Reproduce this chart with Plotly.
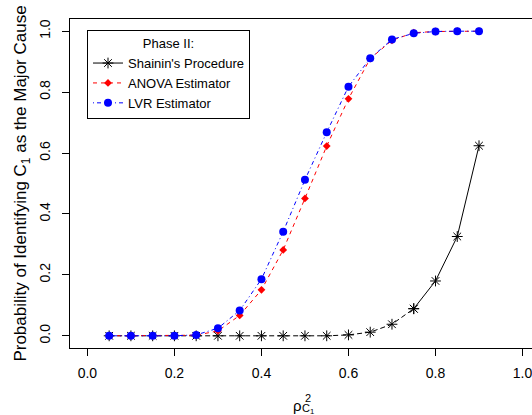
import plotly.graph_objects as go

rho2 = [0.05, 0.10, 0.15, 0.20, 0.25, 0.30, 0.35, 0.40, 0.45, 0.50, 0.55, 0.60, 0.65, 0.70, 0.75, 0.80, 0.85, 0.90]
shainin = [0.0, 0.0, 0.0, 0.0, 0.0, 0.0, 0.0, 0.0, 0.0, 0.0, 0.0, 0.003, 0.012, 0.038, 0.089, 0.180, 0.326, 0.624]
anova = [0.0, 0.0, 0.0, 0.0, 0.002, 0.016, 0.067, 0.151, 0.282, 0.451, 0.623, 0.778, 0.910, 0.970, 0.995, 0.999, 1.0, 1.0]
lvr = [0.0, 0.0, 0.0, 0.0, 0.003, 0.025, 0.083, 0.186, 0.342, 0.512, 0.668, 0.818, 0.911, 0.973, 0.993, 0.999, 1.0, 1.0]
x_ticks = [0.0, 0.2, 0.4, 0.6, 0.8, 1.0]
y_ticks = [0.0, 0.2, 0.4, 0.6, 0.8, 1.0]
split = 14  # Shainin curve drawn dashed up to this index, solid after

FONT = "Liberation Sans, Arial, sans-serif"

fig = go.Figure()
fig.add_trace(go.Scatter(
    x=rho2[split:], y=shainin[split:], mode="lines+markers", name="Shainin's Procedure",
    line=dict(color="black", width=1),
    marker=dict(symbol="asterisk-open", size=9, color="black", line=dict(color="black", width=1)),
))
fig.add_trace(go.Scatter(
    x=rho2[:split + 1], y=shainin[:split + 1], mode="lines+markers", showlegend=False,
    line=dict(color="black", width=1, dash="5px,3px"),
    marker=dict(symbol="asterisk-open", size=9, color="black", line=dict(color="black", width=1)),
))
fig.add_trace(go.Scatter(
    x=rho2, y=anova, mode="lines+markers", name="ANOVA Estimator",
    line=dict(color="red", width=1, dash="4px,4px"),
    marker=dict(symbol="diamond", size=6, color="red"),
))
fig.add_trace(go.Scatter(
    x=rho2, y=lvr, mode="lines+markers", name="LVR Estimator",
    line=dict(color="blue", width=1, dash="1px,3px,4px,3px"),
    marker=dict(symbol="circle", size=8, color="blue"),
))

fig.update_layout(
    width=532, height=415,
    margin=dict(l=70, r=0, t=19, b=67, autoexpand=False),
    paper_bgcolor="white", plot_bgcolor="white",
    font=dict(family=FONT, size=13, color="black"),
    showlegend=True,
    legend=dict(
        x=0.0368, y=0.966, xanchor="left", yanchor="top",
        bordercolor="black", borderwidth=1, bgcolor="white",
        font=dict(family=FONT, size=13, color="black"),
        title=dict(text="Phase II:", side="top center", font=dict(family=FONT, size=13)),
        tracegroupgap=0,
    ),
    xaxis=dict(
        range=[-0.04, 1.0218], tickvals=x_ticks, ticktext=[f"{v:.1f}" for v in x_ticks],
        showgrid=False, zeroline=False, showline=True, linecolor="black", linewidth=1,
        mirror=True, ticks="outside", ticklen=7, tickcolor="black", automargin=False,
        ticklabelstandoff=5, ticklabeloverflow="allow",
        tickfont=dict(family=FONT, size=14, color="black"),
    ),
    yaxis=dict(
        range=[-0.04, 1.04], tickvals=y_ticks, ticktext=[f"{v:.1f}" for v in y_ticks],
        showgrid=False, zeroline=False, showline=True, linecolor="black", linewidth=1,
        ticks="outside", ticklen=7, tickcolor="black", tickangle=-90, automargin=False,
        ticklabelstandoff=6, ticklabeloverflow="allow",
        tickfont=dict(family=FONT, size=14, color="black"),
        title=dict(text="Probability of Identifying C<sub>1</sub> as the Major Cause",
                   font=dict(family=FONT, size=17, color="black"), standoff=6),
    ),
)

# x-axis label: rho with stacked superscript 2 and subscript C1
fig.add_annotation(x=0.5, y=0, xref="x", yref="paper", text="ρ", showarrow=False,
                   xanchor="right", yanchor="middle", xshift=-1, yshift=-57,
                   font=dict(family=FONT, size=15, color="black"))
fig.add_annotation(x=0.5, y=0, xref="x", yref="paper", text="2", showarrow=False,
                   xanchor="left", yanchor="middle", xshift=-2, yshift=-50,
                   font=dict(family=FONT, size=11, color="black"))
fig.add_annotation(x=0.5, y=0, xref="x", yref="paper", text="C<sub>1</sub>", showarrow=False,
                   xanchor="left", yanchor="middle", xshift=-5, yshift=-61,
                   font=dict(family=FONT, size=11, color="black"))

fig.write_html("out.html", config={"displayModeBar": False},
               post_script="document.body.style.margin='0';")
